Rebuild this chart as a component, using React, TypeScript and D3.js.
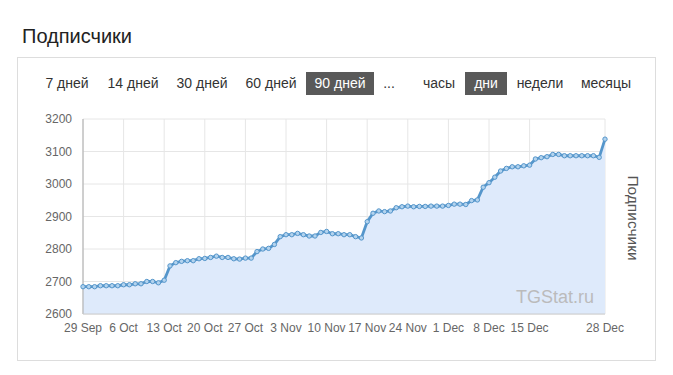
import React from "react";
import * as d3 from "d3";

// подписчики по дням, начиная с 29 Sep
const startDate = new Date(2019, 8, 29);
const subscribers = [
  2684, 2684,
  2684, 2687, 2687, 2687, 2687, 2690, 2690, 2693, 2693, 2700, 2700, 2696, 2704, 2748, 2758, 2762,
  2764, 2764, 2770, 2771, 2774, 2778, 2774, 2774, 2770, 2769, 2772, 2772, 2792, 2800, 2802,
  2814, 2838, 2844, 2844, 2848, 2844, 2840, 2840, 2851, 2854, 2847, 2847, 2844, 2844, 2838, 2834,
  2884, 2910, 2917, 2915, 2917, 2927, 2930, 2932, 2930, 2931, 2931, 2932, 2932, 2932,
  2934, 2938, 2938, 2937, 2949, 2951, 2990, 3004, 3021, 3040, 3048, 3053, 3053, 3056, 3058,
  3077, 3081, 3084, 3091, 3091, 3087, 3087, 3087, 3087, 3087, 3087, 3082, 3138,
];
const yTicks = [2600, 2700, 2800, 2900, 3000, 3100, 3200];
const xTickDays = [0, 7, 14, 21, 28, 35, 42, 49, 56, 63, 70, 77, 90];

const periods = ["7 дней", "14 дней", "30 дней", "60 дней", "90 дней", "..."];
const periodX = [67, 133, 202, 271, 340, 389];
const units = ["часы", "дни", "недели", "месяцы"];
const unitX = [439, 486, 540, 606];

const W = 673;
const H = 375;
const font = "'Liberation Sans', Arial, sans-serif";

const App = () => {
  const data = subscribers.map((v, i) => ({ date: d3.timeDay.offset(startDate, i), value: v }));
  const x = d3
    .scaleTime()
    .domain([startDate, d3.timeDay.offset(startDate, subscribers.length - 1)])
    .range([83, 605]);
  const y = d3.scaleLinear().domain([2600, 3200]).range([314, 119]);

  const line = d3
    .line<{ date: Date; value: number }>()
    .x((d) => x(d.date))
    .y((d) => y(d.value));
  const area = d3
    .area<{ date: Date; value: number }>()
    .x((d) => x(d.date))
    .y0(y(2600))
    .y1((d) => y(d.value));

  const fmt = d3.timeFormat("%-d %b");
  const xTicks = xTickDays.map((d) => d3.timeDay.offset(startDate, d));

  return (
    <svg
      width={W}
      height={H}
      style={{ position: "absolute", left: 0, top: 0, background: "#fff" }}
      fontFamily={font}
    >
      <text x={22} y={43} fontSize={20} fill="#222">
        Подписчики
      </text>
      <rect x={17.5} y={57.5} width={638} height={303} fill="#fff" stroke="#ddd" />

      {/* переключатели */}
      <rect x={306} y={72} width={68} height={23} fill="#595959" />
      <rect x={465} y={72} width={42} height={23} fill="#595959" />
      {periods.map((p, i) => (
        <text key={p} x={periodX[i]} y={88} fontSize={14} textAnchor="middle" fill={i === 4 ? "#fff" : "#333"}>
          {p}
        </text>
      ))}
      {units.map((u, i) => (
        <text key={u} x={unitX[i]} y={88} fontSize={14} textAnchor="middle" fill={i === 1 ? "#fff" : "#333"}>
          {u}
        </text>
      ))}

      {/* сетка */}
      {yTicks.map((t) => (
        <line key={t} x1={83} x2={605} y1={y(t)} y2={y(t)} stroke="#e6e6e6" />
      ))}
      {xTicks.map((t, i) => (
        <line key={i} x1={x(t)} x2={x(t)} y1={119} y2={314} stroke="#e6e6e6" />
      ))}

      <path d={area(data) || ""} fill="#deeafb" />
      <line x1={83} x2={83} y1={119} y2={314} stroke="#aaa" />
      <line x1={83} x2={605} y1={314} y2={314} stroke="#ccc" />

      <text x={594} y={303} fontSize={18} textAnchor="end" fill="#bbb">
        TGStat.ru
      </text>

      <path d={line(data) || ""} fill="none" stroke="#5596cb" strokeWidth={2.8} />
      {data.map((d, i) => (
        <circle key={i} cx={x(d.date)} cy={y(d.value)} r={2.2} fill="#b3d3ee" stroke="#5596cb" strokeWidth={1} />
      ))}

      {yTicks.map((t) => (
        <text key={t} x={72} y={y(t) + 4} fontSize={12} textAnchor="end" fill="#666">
          {t}
        </text>
      ))}
      {xTicks.map((t, i) => (
        <text key={i} x={x(t)} y={332} fontSize={12} textAnchor="middle" fill="#666">
          {fmt(t)}
        </text>
      ))}

      <text
        transform={`translate(628, 218) rotate(90)`}
        fontSize={15.5}
        textAnchor="middle"
        fill="#555"
      >
        Подписчики
      </text>
    </svg>
  );
};

export default App;
